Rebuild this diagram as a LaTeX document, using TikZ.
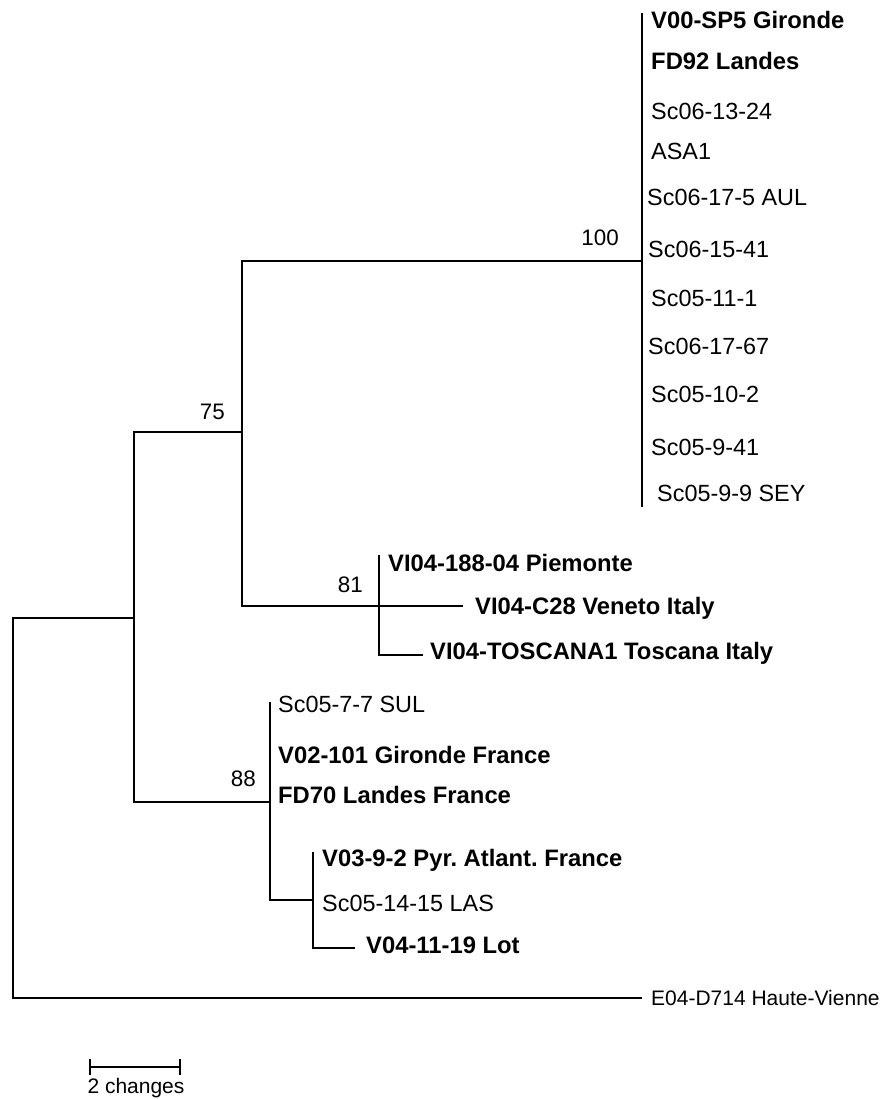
\documentclass[tikz,border=0pt]{standalone}
\usepackage{fontspec}
\setmainfont{Liberation Sans}
\frenchspacing
\begin{document}
\begin{tikzpicture}[x=1pt,y=-1pt,
  branch/.style={line width=1.4pt},
  tip/.style={anchor=base west, inner sep=0pt, font=\fontsize{23.4}{27}\selectfont},
  btip/.style={anchor=base west, inner sep=0pt, font=\fontsize{23.8}{27}\selectfont\bfseries},
  boot/.style={anchor=base east, inner sep=0pt, font=\fontsize{22.4}{26}\selectfont}]
\useasboundingbox (0,0) rectangle (885,1099);

% internal nodes
\coordinate (root) at (13,808);
\coordinate (n1) at (134,618);
\coordinate (n75) at (242,432);
\coordinate (n100) at (642,261);
\coordinate (n81) at (379,606);
\coordinate (n88) at (270,802);
\coordinate (nsub) at (313,900);
\coordinate (outE) at (642,998);
\coordinate (c100top) at (642,13);
\coordinate (c100bot) at (642,507);
\coordinate (c81top) at (379,555);
\coordinate (c28E) at (463,606);
\coordinate (tosE) at (423,655);
\coordinate (c88top) at (270,702);
\coordinate (lotE) at (355,948);
\coordinate (subtop) at (313,852);

% branches
\draw[branch] (n1) -| (root) |- (outE);
\draw[branch] (n75) -| (n1) |- (n88);
\draw[branch] (n100) -| (n75) |- (n81);
\draw[branch] (c100top) -- (c100bot);
\draw[branch] (n81) -- (c28E);
\draw[branch] (c81top) -- (n81) |- (tosE);
\draw[branch] (c88top) -- (n88) |- (nsub);
\draw[branch] (subtop) -- (nsub) |- (lotE);

% bootstrap values
\node[boot] (b100) at (619,245) {100};
\node[boot] (b75) at (225,419) {75};
\node[boot] (b81) at (363,592) {81};
\node[boot] (b88) at (256,786) {88};

% tips
\node[btip] (t1) at (651,29) {V00-SP5 Gironde};
\node[btip] (t2) at (651,70) {FD92 Landes};
\node[tip] (t3) at (651,120) {Sc06-13-24};
\node[tip] (t4) at (651,160) {ASA1};
\node[tip] (t5) at (647,206) {Sc06-17-5 AUL};
\node[tip] (t6) at (648,258) {Sc06-15-41};
\node[tip] (t7) at (651,306) {Sc05-11-1};
\node[tip] (t8) at (648,354) {Sc06-17-67};
\node[tip] (t9) at (651,402) {Sc05-10-2};
\node[tip] (t10) at (651,455) {Sc05-9-41};
\node[tip] (t11) at (657,501) {Sc05-9-9 SEY};
\node[btip] (t12) at (388,571) {VI04-188-04 Piemonte};
\node[btip] (t13) at (475,614) {VI04-C28 Veneto Italy};
\node[btip] (t14) at (430,659) {VI04-TOSCANA1 Toscana Italy};
\node[tip] (t15) at (278,712) {Sc05-7-7 SUL};
\node[btip] (t16) at (278,763) {V02-101 Gironde France};
\node[btip] (t17) at (278,803) {FD70 Landes France};
\node[btip] (t18) at (322,866) {V03-9-2 Pyr. Atlant. France};
\node[tip] (t19) at (322,911) {Sc05-14-15 LAS};
\node[btip] (t20) at (366,953) {V04-11-19 Lot};
\node[tip, font=\fontsize{21}{25}\selectfont] (t21) at (651,1005) {E04-D714 Haute-Vienne};

% scale bar
\coordinate (sbL) at (90,1067);
\coordinate (sbR) at (180,1067);
\draw[line width=1.2pt] (sbL) -- (sbR);
\draw[line width=1.2pt] ([yshift=-8pt]sbL) -- ([yshift=8pt]sbL);
\draw[line width=1.2pt] ([yshift=-8pt]sbR) -- ([yshift=8pt]sbR);
\node[anchor=base, inner sep=0pt, font=\fontsize{21}{25}\selectfont] (sbt) at (136,1093) {2 changes};
\end{tikzpicture}
\end{document}
